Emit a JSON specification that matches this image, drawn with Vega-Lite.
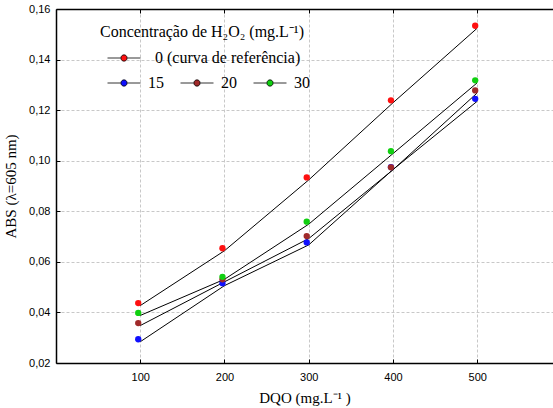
{
  "$schema": "https://vega.github.io/schema/vega-lite/v6.json",
  "width": 497,
  "height": 354,
  "autosize": "none",
  "padding": {"left": 56, "top": 9, "right": 0, "bottom": 45},
  "background": "white",
  "data": {"values": [
    {"serie": "0 (curva de referência)", "dqo": 100, "abs": 0.0427},
    {"serie": "0 (curva de referência)", "dqo": 200, "abs": 0.0644},
    {"serie": "0 (curva de referência)", "dqo": 300, "abs": 0.0924},
    {"serie": "0 (curva de referência)", "dqo": 400, "abs": 0.1229},
    {"serie": "0 (curva de referência)", "dqo": 500, "abs": 0.1524},
    {"serie": "15", "dqo": 100, "abs": 0.0284},
    {"serie": "15", "dqo": 200, "abs": 0.0506},
    {"serie": "15", "dqo": 300, "abs": 0.0667},
    {"serie": "15", "dqo": 400, "abs": 0.0965},
    {"serie": "15", "dqo": 500, "abs": 0.1235},
    {"serie": "20", "dqo": 100, "abs": 0.0348},
    {"serie": "20", "dqo": 200, "abs": 0.0521},
    {"serie": "20", "dqo": 300, "abs": 0.0692},
    {"serie": "20", "dqo": 400, "abs": 0.0964},
    {"serie": "20", "dqo": 500, "abs": 0.1268},
    {"serie": "30", "dqo": 100, "abs": 0.0388},
    {"serie": "30", "dqo": 200, "abs": 0.0531},
    {"serie": "30", "dqo": 300, "abs": 0.0749},
    {"serie": "30", "dqo": 400, "abs": 0.1028},
    {"serie": "30", "dqo": 500, "abs": 0.1308}
  ]},
  "encoding": {
    "x": {
      "field": "dqo", "type": "quantitative",
      "scale": {"domain": [0, 590], "nice": false, "zero": false},
      "axis": {
        "values": [100, 200, 300, 400, 500],
        "title": "DQO (mg.L⁻¹ )",
        "tickSize": -4,
        "labelPadding": 12,
        "titlePadding": 8,
        "grid": true,
        "labelFlush": false
      }
    },
    "y": {
      "field": "abs", "type": "quantitative",
      "scale": {"domain": [0.02, 0.16], "nice": false, "zero": false},
      "axis": {
        "values": [0.02, 0.04, 0.06, 0.08, 0.1, 0.12, 0.14, 0.16],
        "labelExpr": "replace(format(datum.value, '.2f'), '.', ',')",
        "title": "ABS (λ=605 nm)",
        "tickSize": -4,
        "labelPadding": 10,
        "titlePadding": 10,
        "grid": true,
        "labelFlush": false
      }
    }
  },
  "layer": [
    {
      "mark": {"type": "line", "color": "black", "strokeWidth": 1},
      "encoding": {"detail": {"field": "serie", "type": "nominal"}}
    },
    {
      "transform": [{"filter": "datum.serie === '0 (curva de referência)'"}],
      "mark": {"type": "point", "shape": "circle", "filled": true, "opacity": 1, "size": 40, "xOffset": -2, "yOffset": -2.5},
      "encoding": {
        "x": {
          "field": "dqo", "type": "quantitative",
          "axis": {"orient": "top", "values": [100, 200, 300, 400, 500], "labels": false, "title": null, "grid": false, "tickSize": -4, "domain": true}
        },
        "fill": {
          "field": "serie", "type": "nominal",
          "scale": {"domain": ["0 (curva de referência)"], "range": ["#fe1010"]},
          "legend": {
            "orient": "none", "legendX": 44, "legendY": 15,
            "title": "Concentração de H₂O₂ (mg.L⁻¹)",
            "titleFont": "Liberation Serif", "titleFontSize": 16, "titleFontWeight": "normal", "titleColor": "#000",
            "titlePadding": 1, "titleLimit": 500,
            "labelFont": "Liberation Serif", "labelFontSize": 16, "labelColor": "#000", "labelLimit": 500,
            "symbolType": "M-1,0H-0.2M0.2,0H1M-0.19,0A0.19,0.19,0,1,0,0.19,0A0.19,0.19,0,1,0,-0.19,0Z",
            "symbolSize": 1089, "symbolOffset": 7, "labelOffset": 14, "padding": 0,
            "symbolOpacity": 1,
            "encode": {
              "symbols": {"update": {"stroke": {"value": "black"}, "strokeWidth": {"value": 0.8}, "opacity": {"value": 1}}},
              "labels": {"update": {"font": {"value": "Liberation Serif"}, "fontSize": {"value": 16}}}
            }
          }
        }
      }
    },
    {
      "transform": [{"filter": "datum.serie !== '0 (curva de referência)'"}],
      "mark": {"type": "point", "shape": "circle", "filled": true, "opacity": 1, "size": 40, "xOffset": -2, "yOffset": -2.5},
      "encoding": {
        "x": {"field": "dqo", "type": "quantitative", "axis": null},
        "color": {
          "field": "serie", "type": "nominal",
          "scale": {"domain": ["15", "20", "30"], "range": ["#1010fe", "#a02a2a", "#10d010"]},
          "legend": {
            "orient": "none", "legendX": 51, "legendY": 57,
            "title": null, "columns": 3, "columnPadding": 14,
            "labelFont": "Liberation Serif", "labelFontSize": 16, "labelColor": "#000",
            "symbolType": "M-1,0H-0.2M0.2,0H1M-0.19,0A0.19,0.19,0,1,0,0.19,0A0.19,0.19,0,1,0,-0.19,0Z",
            "symbolSize": 1089, "labelOffset": 7, "padding": 0,
            "symbolOpacity": 1,
            "encode": {
              "symbols": {"update": {"stroke": {"value": "black"}, "strokeWidth": {"value": 0.8}, "opacity": {"value": 1}}},
              "labels": {"update": {"font": {"value": "Liberation Serif"}, "fontSize": {"value": 16}}}
            }
          }
        }
      }
    }
  ],
  "resolve": {"axis": {"x": "independent"}},
  "config": {
    "view": {"stroke": null},
    "legend": {"labelFont": "Liberation Serif", "titleFont": "Liberation Serif"},
    "axis": {
      "labelFont": "Liberation Sans", "labelFontSize": 11, "labelColor": "#000",
      "titleFont": "Liberation Serif", "titleFontSize": 15, "titleFontWeight": "normal", "titleColor": "#000",
      "gridColor": "#c8c8c8", "gridDash": [3, 2], "gridWidth": 1,
      "domainColor": "#000", "domainWidth": 1.5, "tickColor": "#000", "tickWidth": 1
    }
  }
}
